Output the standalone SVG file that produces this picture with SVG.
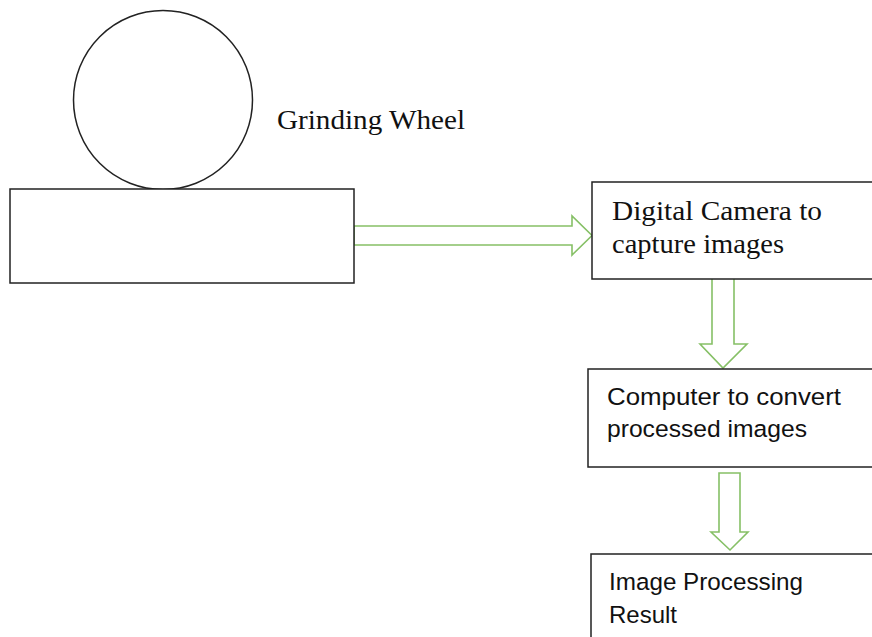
<svg xmlns="http://www.w3.org/2000/svg" width="872" height="637" viewBox="0 0 872 637">
<style>
.box{fill:#fff;stroke:#222;stroke-width:1.5}
.arr{fill:#fff;stroke:#86c066;stroke-width:1.6;stroke-linejoin:miter}
.serif{font-family:"Liberation Serif","Times New Roman",serif;font-size:28px;fill:#111}
.sans{font-family:"Liberation Sans",Arial,sans-serif;font-size:24.5px;fill:#111}
</style>
<rect width="872" height="637" fill="#fff"/>
<g id="connectors">
<path class="arr" d="M354,226 H572 V216 L592,235.5 L572,255 V245 H354 Z"/>
<path class="arr" d="M712,279 V344 H700 L723,368 L747,344 H734 V279"/>
<path class="arr" d="M719,473 H740 V532 H748 L730,550 L711,532 H719 Z"/>
</g>
<g id="grinding-wheel">
<circle cx="163" cy="100" r="89.5" fill="none" stroke="#222" stroke-width="1.5"/>
<text class="serif" x="277" y="129" textLength="188" lengthAdjust="spacingAndGlyphs">Grinding Wheel</text>
</g>
<g id="workpiece">
<rect class="box" x="10" y="189" width="344" height="94"/>
</g>
<g id="camera">
<rect class="box" x="592" y="182" width="290" height="97"/>
<text class="serif" x="612" y="220" textLength="210" lengthAdjust="spacingAndGlyphs">Digital Camera to</text>
<text class="serif" x="612" y="253" textLength="172" lengthAdjust="spacingAndGlyphs">capture images</text>
</g>
<g id="computer">
<rect class="box" x="588" y="369" width="294" height="98"/>
<text class="sans" x="607" y="405" textLength="234" lengthAdjust="spacingAndGlyphs">Computer to convert</text>
<text class="sans" x="607" y="437" textLength="200" lengthAdjust="spacingAndGlyphs">processed images</text>
</g>
<g id="result">
<rect class="box" x="591" y="554" width="291" height="100"/>
<text class="sans" x="609" y="590" textLength="194" lengthAdjust="spacingAndGlyphs">Image Processing</text>
<text class="sans" x="609" y="623" textLength="68" lengthAdjust="spacingAndGlyphs">Result</text>
</g>
</svg>
